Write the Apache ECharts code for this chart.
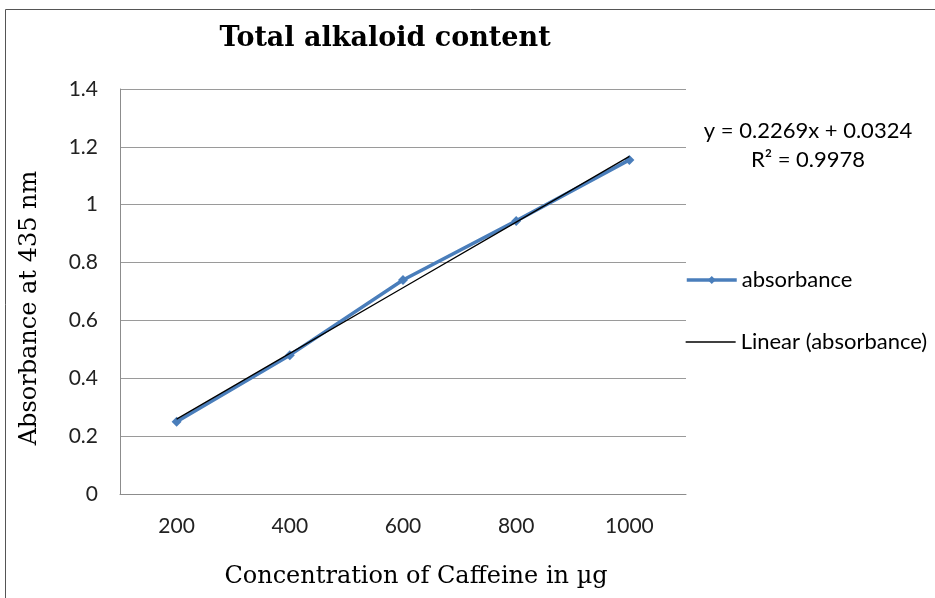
<!DOCTYPE html>
<html>
<head>
<meta charset="utf-8">
<title>Total alkaloid content</title>
<script src="https://cdn.jsdelivr.net/npm/echarts@6/dist/echarts.min.js"></script>
<style>
html, body { margin: 0; padding: 0; background: #fff; }
#chart { width: 935px; height: 598px; }
</style>
</head>
<body>
<div id="chart"></div>
<script>
// concentration of caffeine (µg)
var concentrations = ['200', '400', '600', '800', '1000'];
// measured absorbance at 435 nm
var absorbance = [0.25, 0.48, 0.74, 0.944, 1.155];
// linear trendline values (y = 0.2269x + 0.0324)
var trend = [0.259, 0.486, 0.713, 0.940, 1.167];
var yTicks = [0, 0.2, 0.4, 0.6, 0.8, 1, 1.2, 1.4];

var chart = echarts.init(document.getElementById('chart'));
var serif = '"DejaVu Serif", "Liberation Serif", serif';
var sans = 'Lato, "Open Sans", "Liberation Sans", sans-serif';

var legendText = { fontFamily: sans, fontSize: 22, lineHeight: 22, color: '#000' };

var option = {
	animation: false,
	backgroundColor: '#fff',
	title: {
		text: 'Total alkaloid content',
		left: 380,
		textAlign: 'center',
		top: 20,
		textStyle: {
			fontFamily: serif,
			fontWeight: 'bold',
			fontSize: 27,
			color: '#000'
		}
	},
	grid: {
		left: 120,
		right: 249,
		top: 89,
		bottom: 104
	},
	legend: [
		{
			left: 685,
			top: 269,
			padding: 0,
			itemWidth: 50,
			itemHeight: 10,
			lineStyle: { width: 3.5, color: '#4a7ebb' },
			textStyle: legendText,
			data: ['absorbance']
		},
		{
			left: 685,
			top: 331,
			padding: 0,
			itemWidth: 50,
			itemHeight: 10,
			itemStyle: { opacity: 0 },
			lineStyle: { width: 1.3, color: '#000' },
			textStyle: legendText,
			data: ['Linear (absorbance)']
		}
	],
	xAxis: {
		type: 'category',
		data: concentrations,
		boundaryGap: true,
		axisLine: { lineStyle: { color: '#8c8c8c', width: 1 } },
		axisTick: { show: false },
		axisLabel: { margin: 22, fontFamily: sans, fontSize: 21, color: '#222' },
		splitLine: { show: false }
	},
	yAxis: {
		type: 'value',
		min: 0,
		max: 1.4,
		interval: 0.2,
		axisLine: { show: true, lineStyle: { color: '#8c8c8c', width: 1 } },
		axisTick: { show: false },
		axisLabel: {
			margin: 22,
			fontFamily: sans,
			fontSize: 21,
			color: '#222',
			formatter: function (v) {
				var t = yTicks.find(function (k) { return Math.abs(k - v) < 1e-9; });
				return t === undefined ? '' : String(t);
			}
		},
		splitLine: { lineStyle: { color: '#9a9a9a', width: 1 } }
	},
	series: [
		{
			name: 'absorbance',
			type: 'line',
			data: absorbance,
			symbol: 'diamond',
			symbolSize: 10,
			lineStyle: { color: '#4a7ebb', width: 3.5 },
			itemStyle: { color: '#4a7ebb' },
			z: 2
		},
		{
			name: 'Linear (absorbance)',
			type: 'line',
			data: trend,
			symbol: 'none',
			lineStyle: { color: '#000', width: 1.3 },
			itemStyle: { color: '#000' },
			z: 3
		}
	],
	graphic: [
		{
			type: 'rect',
			shape: { x: 5.5, y: 9.5, width: 1000, height: 1000 },
			style: { fill: 'none', stroke: '#555', lineWidth: 1 },
			silent: true
		},
		{
			type: 'text',
			x: 808,
			y: 131,
			style: {
				text: 'y = 0.2269x + 0.0324',
				font: '22px ' + sans,
				fill: '#000',
				align: 'center',
				verticalAlign: 'middle'
			}
		},
		{
			type: 'text',
			x: 808,
			y: 160,
			style: {
				text: 'R² = 0.9978',
				font: '22px ' + sans,
				fill: '#000',
				align: 'center',
				verticalAlign: 'middle'
			}
		},
		{
			// y axis title
			type: 'text',
			x: 30,
			y: 308,
			rotation: Math.PI / 2,
			style: {
				text: 'Absorbance at 435 nm',
				font: '24px ' + serif,
				fill: '#000',
				align: 'center',
				verticalAlign: 'middle'
			}
		},
		{
			// x axis title
			type: 'text',
			x: 416,
			y: 577,
			style: {
				text: 'Concentration of Caffeine in µg',
				font: '24px ' + serif,
				fill: '#000',
				align: 'center',
				verticalAlign: 'middle'
			}
		}
	]
};

chart.setOption(option);
window.addEventListener('resize', function () {
	chart.resize();
});
</script>
</body>
</html>
